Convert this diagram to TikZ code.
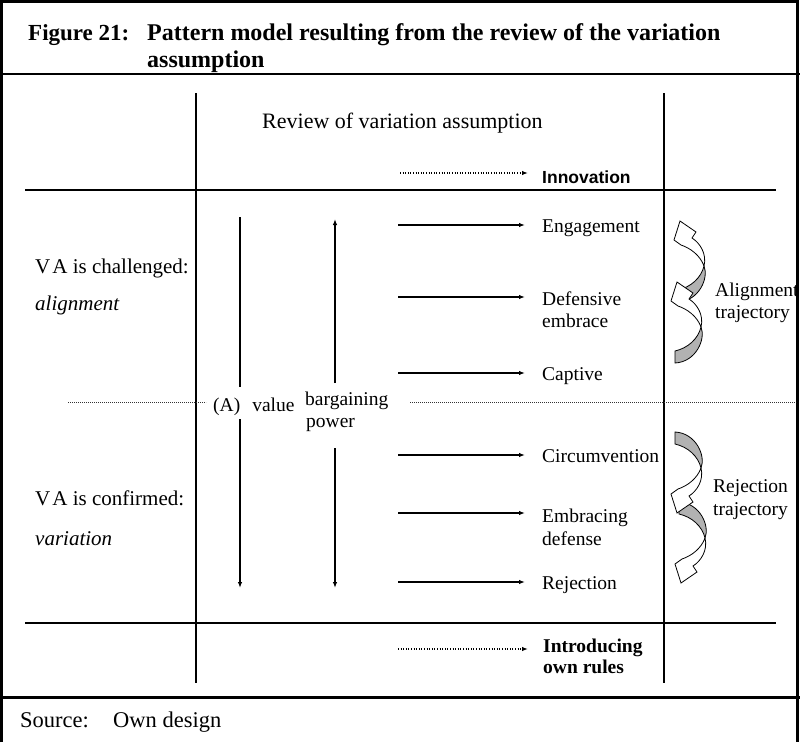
\documentclass[tikz,border=0pt]{standalone}
\usepackage{fontspec}
\setmainfont{Liberation Serif}
\newfontfamily\arialfont{Liberation Sans}
\usetikzlibrary{arrows.meta}
\tikzset{
  curvarr/.pic={
    \filldraw[fill=white,line width=0.8pt] (26,-24) .. controls (29,-36) and (22,-47) .. (14,-52) -- (18,-58) -- (2,-69) -- (-4,-50) -- (3,-45) .. controls (12,-42) and (22,-35) .. (26,-24) -- cycle;
    \filldraw[fill=black!30,line width=0.8pt] (0,0) .. controls (13,-3) and (23,-12) .. (26,-24) .. controls (31,-12) and (21,11) .. (0,12) -- cycle;
  }
}
\begin{document}
\begin{tikzpicture}[x=1pt,y=-1pt,
  frame/.style={line width=3pt},
  grid/.style={line width=1.1pt},
  harr/.style={line width=1.3pt,-{Latex[length=6pt,width=4.5pt]}},
  varr/.style={line width=1.5pt,-{Latex[length=6pt,width=4.5pt]}},
  darr/.style={line width=1.3pt,dash pattern=on 1pt off 1.6pt,-{Latex[length=6pt,width=4.5pt]}},
  sep/.style={line width=0.8pt,dash pattern=on 0.8pt off 1.2pt,black!80},
  lbl/.style={inner sep=0pt,anchor=base west,font=\fontsize{19.5}{23}\selectfont},
  side/.style={inner sep=0pt,anchor=base west,font=\fontsize{21}{25}\selectfont},
  ttl/.style={inner sep=0pt,anchor=base west,font=\bfseries\fontsize{24}{28}\selectfont},
  blbl/.style={inner sep=0pt,anchor=base west,font=\bfseries\fontsize{19.5}{23}\selectfont},
  src/.style={inner sep=0pt,anchor=base west,font=\fontsize{22.5}{26}\selectfont}
]
\useasboundingbox (0,0) rectangle (800,742);
% frame
\draw[frame] (1.5,742) -- (1.5,1.5) -- (797.5,1.5) -- (797.5,742);
\draw[line width=2.5pt] (0,74) -- (800,74);
\draw[line width=3pt] (0,697) -- (800,697);
% title
\node[ttl,font=\bfseries\fontsize{23}{28}\selectfont] (fig) at (28,40) {Figure 21:};
\node[ttl] (ttl1) at (147,40) {Pattern model resulting from the review of the variation};
\node[ttl] (ttl2) at (147,67) {assumption};
% grid
\draw[grid] (196,93) -- (196,683);
\draw[grid] (664,93) -- (664,683);
\draw[grid] (25,190) -- (776,190);
\draw[grid] (25,623) -- (776,623);
\draw[sep] (68,402) -- (206,402);
\draw[sep] (410,402) -- (796,402);
% header
\node[inner sep=0pt,anchor=base west,font=\fontsize{22}{26}\selectfont] (rev) at (262,128) {Review of variation assumption};
\node[inner sep=0pt,anchor=base west,font=\arialfont\bfseries\fontsize{17.5}{20}\selectfont] (inno) at (542,183) {Innovation};
\coordinate (innos) at (400,173);
\draw[darr,shorten >=14pt] (innos) -- (innos -| inno.west);
% left labels
\node[side] (vac) at (35,273) {V\kern2pt A is challenged:};
\node[side,font=\itshape\fontsize{21}{25}\selectfont] (aln) at (35,310) {alignment};
\node[side] (vaf) at (35,505) {V\kern2pt A is confirmed:};
\node[side,font=\itshape\fontsize{21}{25}\selectfont] (var) at (35,545) {variation};
% vertical arrows
\node[lbl] (val) at (213,411) {(A)\hspace{12pt}value};
\node[lbl] (barg) at (305,405) {bargaining};
\node[lbl] (pow) at (306,427) {power};
\coordinate (v1) at (240,217);
\coordinate (v2) at (240,387);
\coordinate (v3) at (240,419);
\coordinate (v4) at (240,588);
\draw[line width=1.5pt] (v1) -- (v2);
\draw[varr] (v3) -- (v4);
\coordinate (b1) at (335,383);
\coordinate (b2) at (335,219);
\coordinate (b3) at (335,448);
\coordinate (b4) at (335,588);
\draw[varr] (b1) -- (b2);
\draw[varr] (b3) -- (b4);
% horizontal arrows and outcomes
\node[lbl] (eng) at (542,232) {Engagement};
\coordinate (engs) at (398,225);
\draw[harr,shorten >=17pt] (engs) -- (engs -| eng.west);
\node[lbl] (def) at (542,305) {Defensive};
\node[lbl] (def2) at (542,327) {embrace};
\coordinate (defs) at (398,297);
\draw[harr,shorten >=17pt] (defs) -- (defs -| def.west);
\node[lbl] (cap) at (542,380) {Captive};
\coordinate (caps) at (398,373);
\draw[harr,shorten >=17pt] (caps) -- (caps -| cap.west);
\node[lbl] (cir) at (542,462) {Circumvention};
\coordinate (cirs) at (398,455);
\draw[harr,shorten >=17pt] (cirs) -- (cirs -| cir.west);
\node[lbl] (emb) at (542,522) {Embracing};
\node[lbl] (emb2) at (542,545) {defense};
\coordinate (embs) at (398,513);
\draw[harr,shorten >=17pt] (embs) -- (embs -| emb.west);
\node[lbl] (rej) at (542,589) {Rejection};
\coordinate (rejs) at (398,582);
\draw[harr,shorten >=17pt] (rejs) -- (rejs -| rej.west);
\node[blbl] (intro) at (543,652) {Introducing};
\node[blbl] (intro2) at (543,673) {own rules};
\coordinate (intros) at (398,649);
\draw[darr,shorten >=15pt] (intros) -- (intros -| intro.west);
% trajectories
\pic at (678,290) {curvarr};
\pic at (675,351) {curvarr};
\pic[yscale=-1] at (679,514) {curvarr};
\pic[yscale=-1] at (675,444) {curvarr};
\node[lbl] (alt) at (715,296) {Alignment};
\node[lbl] (alt2) at (715,318) {trajectory};
\node[lbl] (rjt) at (713,492) {Rejection};
\node[lbl] (rjt2) at (713,515) {trajectory};
% source
\node[src] (srcl) at (20,727) {Source:};
\node[src] (srct) at (113,727) {Own design};
\end{tikzpicture}
\end{document}
